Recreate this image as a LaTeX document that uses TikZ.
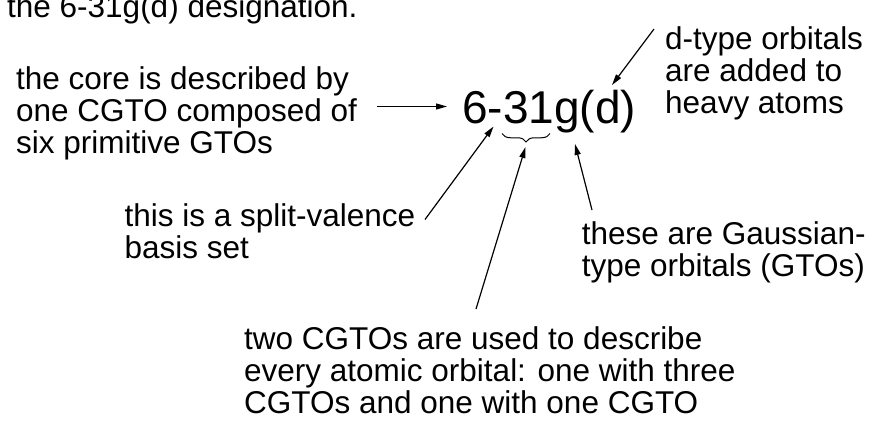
\documentclass[tikz,border=0pt]{standalone}
\usepackage{fontspec}
\setmainfont{Liberation Sans}
\usetikzlibrary{arrows.meta,decorations.pathreplacing}
\begin{document}
\begin{tikzpicture}[x=1pt,y=-1pt,
  lbl/.style={anchor=base west,inner sep=0pt,align=left,font=\fontsize{31.5}{31.7}\selectfont},
  big/.style={anchor=base west,inner sep=0pt,font=\fontsize{46}{46}\selectfont},
  arr/.style={-{Triangle[length=11pt,width=6pt]},line width=1.2pt},
  bracestyle/.style={decorate,decoration={brace,amplitude=8.5pt,mirror},line width=1pt}
  ]
\useasboundingbox (0,0) rectangle (872,421);
\clip (0,0) rectangle (872,421);
% multi-line nodes are placed by the baseline of their last line
\node[lbl] (top) at (7,17) {the 6-31g(d) designation.};
\node[lbl] (core) at (16,153) {the core is described by\\one CGTO composed of\\six primitive GTOs};
\node[lbl] (dtype) at (665,113) {d-type orbitals\\are added to\\heavy atoms};
\node[lbl] (split) at (124.5,258) {this is a split-valence\\basis set};
\node[lbl] (gauss) at (581.7,276.5) {these are Gaussian-\\type orbitals (GTOs)};
\node[lbl] (two) at (244,413) {two CGTOs are used to describe\\every atomic orbital: one with three\\CGTOs and one with one CGTO};
\node[big] (code) at (462,123.3) {6-31g(d)};
% connector ends
\coordinate (coreT) at (377,106.5); \coordinate (coreH) at (447,106.5);
\coordinate (dT) at (654,29);      \coordinate (dH) at (612,85);
\coordinate (svT) at (425,219.5);  \coordinate (svH) at (493.5,126.5);
\coordinate (twoT) at (476,309);   \coordinate (twoH) at (525.5,147);
\coordinate (gT) at (592,210);     \coordinate (gH) at (575,144);
\coordinate (bL) at (502,133.5);   \coordinate (bR) at (550,133.5);
\draw[arr] (coreT) -- (coreH);
\draw[arr] (dT) -- (dH);
\draw[arr] (svT) -- (svH);
\draw[arr] (twoT) -- (twoH);
\draw[arr] (gT) -- (gH);
\draw[bracestyle] (bL) -- (bR);
\end{tikzpicture}
\end{document}
